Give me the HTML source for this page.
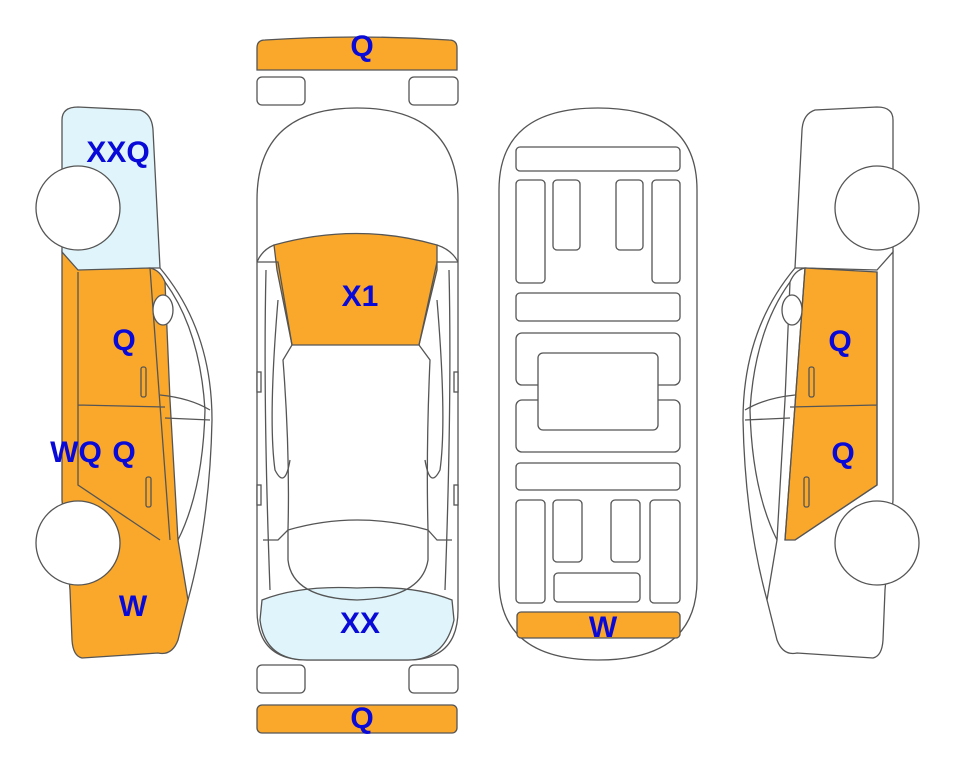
<!DOCTYPE html>
<html><head><style>
html,body{margin:0;padding:0;background:#fff;}
svg{display:block}
text{font-family:"Liberation Sans",Arial,sans-serif;font-weight:bold;font-size:30px;fill:#0a0ad8;text-anchor:middle}
</style></head><body>
<svg width="963" height="768" viewBox="0 0 963 768" xmlns="http://www.w3.org/2000/svg">
<defs>
<g id="carlines" fill="none">
<path d="M160,268 Q212,330 212,420 Q210,520 188,600"/>
<path d="M165,282 Q200,330 205,410 Q203,490 178,540"/>
<path d="M160,395 Q190,398 210,410 M165,418 L210,420"/>
<path d="M78,272 L78,485 L160,540 M150,268 L160,405 L170,540 M78,405 L165,407"/>
</g>
</defs>
<g stroke="#555" stroke-width="1.3" fill="none">
<path d="M257,70 L257,48 Q257,40 265,40 Q357,34 449,40 Q457,40 457,48 L457,70 Z" fill="#f9a82c"/>
<rect x="257" y="77" width="48" height="28" rx="5" fill="#fff"/>
<rect x="409" y="77" width="49" height="28" rx="5" fill="#fff"/>
<rect x="257" y="665" width="48" height="28" rx="5" fill="#fff"/>
<rect x="409" y="665" width="49" height="28" rx="5" fill="#fff"/>
<rect x="257" y="705" width="200" height="28" rx="5" fill="#f9a82c"/>
<path d="M257,200 Q257,108 357,108 Q458,108 458,200 L458,610 Q458,660 408,660 L307,660 Q257,660 257,610 Z" fill="#fff"/>
<path d="M262,600 Q300,585 357,588 Q415,585 452,600 L454,620 Q445,660 408,660 L307,660 Q265,660 260,620 Z" fill="#e0f5fb"/>
<path d="M274,245 Q357,222 437,245 L437,270 L419,345 L292,345 L277,270 Z" fill="#f9a82c"/>
<path d="M257,262 Q262,250 274,245"/><path d="M458,262 Q452,250 437,245"/>
<path d="M257,262 L278,262 L292,345 L283,360 Q290,450 288,530 L278,540 L263,540"/>
<path d="M458,262 L437,262 L419,345 L430,360 Q426,450 428,530 L437,540 L452,540"/>
<path d="M288,530 Q357,510 428,530 L428,560 Q422,598 357,600 Q292,598 288,560 Z"/>
<path d="M266,270 Q263,400 270,590 M449,270 Q452,400 445,590"/>
<path d="M278,300 Q268,420 275,470 Q285,490 290,460 M437,300 Q447,420 440,470 Q430,490 425,460"/>
<rect x="257" y="372" width="4" height="20" fill="#fff"/><rect x="454" y="372" width="4" height="20" fill="#fff"/>
<rect x="257" y="485" width="4" height="20" fill="#fff"/><rect x="454" y="485" width="4" height="20" fill="#fff"/>
<path d="M499,190 Q499,108 598,108 Q697,108 697,190 L697,580 Q697,660 598,660 Q499,660 499,580 Z" fill="#fff"/>
<rect x="516" y="147" width="164" height="24" rx="4"/>
<rect x="516" y="180" width="29" height="103" rx="4"/>
<rect x="553" y="180" width="27" height="70" rx="4"/>
<rect x="616" y="180" width="27" height="70" rx="4"/>
<rect x="652" y="180" width="28" height="103" rx="4"/>
<rect x="516" y="293" width="164" height="28" rx="4"/>
<rect x="516" y="333" width="164" height="52" rx="6"/>
<rect x="516" y="400" width="164" height="52" rx="6"/>
<rect x="538" y="353" width="120" height="77" rx="5" fill="#fff"/>
<rect x="516" y="463" width="164" height="27" rx="4"/>
<rect x="516" y="500" width="29" height="103" rx="4"/>
<rect x="553" y="500" width="29" height="62" rx="4"/>
<rect x="611" y="500" width="29" height="62" rx="4"/>
<rect x="650" y="500" width="30" height="103" rx="4"/>
<rect x="554" y="573" width="86" height="29" rx="4"/>
<rect x="517" y="612" width="163" height="26" rx="4" fill="#f9a82c"/>
</g>
<g stroke="#555" stroke-width="1.3">
<path d="M62,120 Q62,107 78,107 L140,110 Q152,114 153,130 L160,268 L150,268 L78,272 L62,252 Z" fill="#e0f5fb"/>
<path d="M62,252 L78,270 L150,268 Q160,270 165,282 L170,400 L178,540 L188,600 L178,640 Q172,656 158,653 L82,658 Q73,656 72,640 L70,590 L62,500 Z" fill="#f9a82c"/>
<use href="#carlines"/>
<ellipse cx="163" cy="310" rx="10" ry="15" fill="#fff"/>
<rect x="141" y="367" width="5" height="30" rx="2" fill="none"/>
<rect x="146" y="477" width="5" height="30" rx="2" fill="none"/>
<circle cx="78" cy="208" r="42" fill="#fff"/>
<circle cx="78" cy="543" r="42" fill="#fff"/>
</g>
<g stroke="#555" stroke-width="1.3" transform="translate(955,0) scale(-1,1)">
<path d="M62,120 Q62,107 78,107 L140,110 Q152,114 153,130 L160,268 L150,268 L78,272 L62,252 Z" fill="#fff"/>
<path d="M62,252 L78,270 L150,268 Q160,270 165,282 L170,400 L178,540 L188,600 L178,640 Q172,656 158,653 L82,658 Q73,656 72,640 L70,590 L62,500 Z" fill="#fff"/>
<path d="M150,268 L78,272 L78,485 L160,540 L170,540 L160,405 Z" fill="#f9a82c"/>
<use href="#carlines"/>
<ellipse cx="163" cy="310" rx="10" ry="15" fill="#fff"/>
<rect x="141" y="367" width="5" height="30" rx="2" fill="none"/>
<rect x="146" y="477" width="5" height="30" rx="2" fill="none"/>
<circle cx="78" cy="208" r="42" fill="#fff"/>
<circle cx="78" cy="543" r="42" fill="#fff"/>
</g>
<text x="362" y="56">Q</text>
<text x="362" y="728">Q</text>
<text x="360" y="306">X1</text>
<text x="360" y="633">XX</text>
<text x="603" y="637">W</text>
<text x="118" y="162">XXQ</text>
<text x="124" y="350">Q</text>
<text x="76" y="462">WQ</text>
<text x="124" y="462">Q</text>
<text x="133" y="616">W</text>
<text x="840" y="351">Q</text>
<text x="843" y="463">Q</text>
</svg>
</body></html>
